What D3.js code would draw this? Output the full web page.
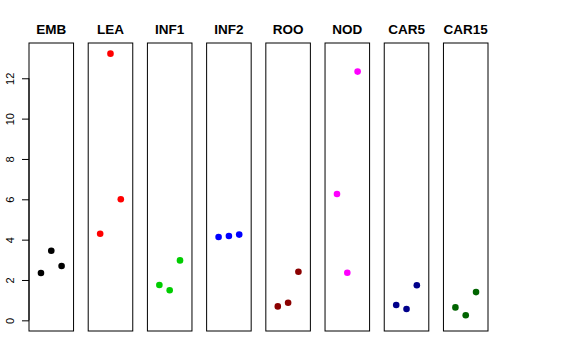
<!DOCTYPE html>
<html><head><meta charset="utf-8">
<script src="https://cdn.jsdelivr.net/npm/d3@7/dist/d3.min.js"></script>
<style>body{margin:0;background:#fff}svg{display:block}text{font-family:"Liberation Sans",Arial,Helvetica,sans-serif}</style>
</head><body>
<script>
const categories = ["EMB","LEA","INF1","INF2","ROO","NOD","CAR5","CAR15"];
const colors = ["#000000","#FF0000","#00CD00","#0000FF","#8B0000","#FF00FF","#00008B","#006400"];
const values = [
  [2.35, 3.45, 2.69],
  [4.29, 13.22, 6.00],
  [1.75, 1.49, 2.97],
  [4.13, 4.18, 4.25],
  [0.69, 0.87, 2.41],
  [6.26, 2.36, 12.33],
  [0.76, 0.56, 1.74],
  [0.64, 0.25, 1.40]
];
const yTicks = [0, 2, 4, 6, 8, 10, 12];

const W = 576, H = 360;
const svg = d3.select("body").append("svg").attr("width", W).attr("height", H);

const ymax = d3.max(values.flat());
const y = d3.scaleLinear().domain([-0.04*ymax, ymax*1.04]).range([331, 43]);
const band = d3.scaleBand().domain(categories).range([29, 488]).paddingInner(0.2475).paddingOuter(0);
const bw = band.bandwidth();
const x = d3.scaleLinear().domain([-0.16, 4.16]).range([0, bw]);

categories.forEach((c, i) => {
  const g = svg.append("g").attr("transform", `translate(${band(c)},0)`);
  g.append("rect").attr("x", 0).attr("y", 43).attr("width", bw).attr("height", 331-43)
    .attr("fill", "none").attr("stroke", "#000").attr("stroke-width", 1);
  g.selectAll("circle").data(values[i]).join("circle")
    .attr("cx", (d, j) => x(j + 1)).attr("cy", d => y(d)).attr("r", 3.3)
    .attr("fill", colors[i]);
  g.append("text").attr("x", bw/2).attr("y", 34).attr("text-anchor", "middle")
    .attr("font-size", "13.5px").attr("font-weight", "bold").text(c);
});

const axis = d3.axisLeft(y).tickValues(yTicks).tickSize(7).tickPadding(4).tickFormat(d3.format("d"));
const ag = svg.append("g").attr("transform", "translate(29,0)").call(axis);
ag.select(".domain").attr("d", `M0,${y(0)}V${y(12)}`).attr("stroke", "#000");
ag.selectAll(".tick line").attr("stroke", "#000");
ag.selectAll(".tick text").attr("font-size", "11px").attr("font-family", '"Liberation Sans",Arial,sans-serif')
  .attr("fill", "#000")
  .attr("text-anchor", "middle")
  .attr("x", 0).attr("y", 0)
  .attr("transform", "translate(-19,0) rotate(-90)")
  .attr("dy", "0.35em");
</script>
</body></html>
